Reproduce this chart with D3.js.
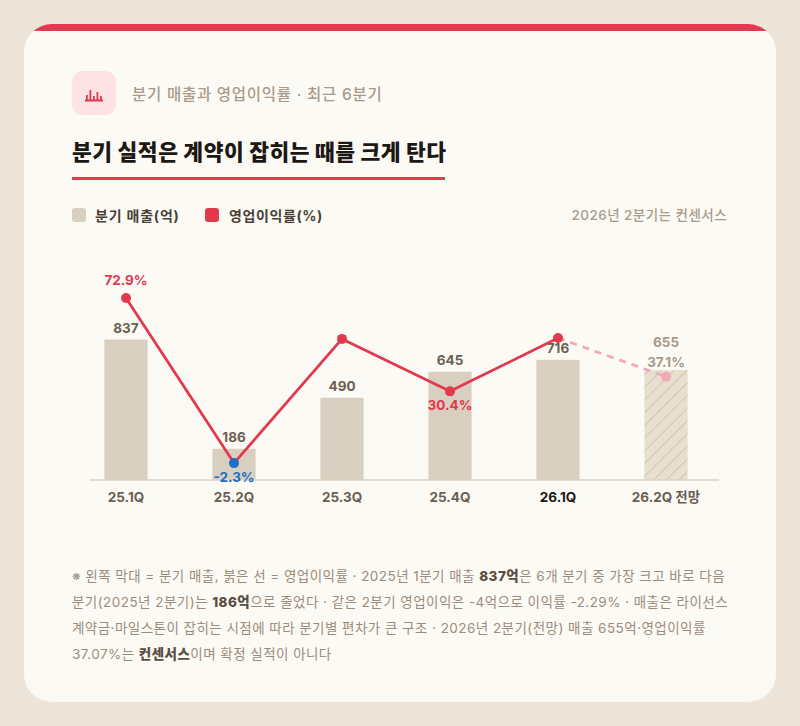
<!DOCTYPE html>
<html><head><meta charset="utf-8">
<script src="https://cdn.jsdelivr.net/npm/d3@7/dist/d3.min.js"></script>
<style>
html,body{margin:0;padding:0;background:#ede5d9;}
svg{display:block;font-family:Inter,"Noto Sans CJK KR","Noto Sans",sans-serif;}
</style></head>
<body>
<svg id="c" width="800" height="726"></svg>
<script>
const quarters = ["25.1Q","25.2Q","25.3Q","25.4Q","26.1Q","26.2Q 전망"];
const revenue = [837,186,490,645,716,655];
const margin = [72.9,-2.3,54.3,30.4,54.7,37.1];
const marginLabels = ["72.9%","-2.3%",null,"30.4%",null,"37.1%"];
const forecast = [false,false,false,false,false,true];
const footLines = [
  [["※ 왼쪽 막대 = 분기 매출, 붉은 선 = 영업이익률 · 2025년 1분기 매출 ",0],["837억",1],["은 6개 분기 중 가장 크고 바로 다음",0]],
  [["분기(2025년 2분기)는 ",0],["186억",1],["으로 줄었다 · 같은 2분기 영업이익은 -4억으로 이익률 -2.29% · 매출은 라이선스",0]],
  [["계약금·마일스톤이 잡히는 시점에 따라 분기별 편차가 큰 구조 · 2026년 2분기(전망) 매출 655억·영업이익률",0]],
  [["37.07%는 ",0],["컨센서스",1],["이며 확정 실적이 아니다",0]]
];

const svg = d3.select("#c");
const defs = svg.append("defs");
const pat = defs.append("pattern").attr("id","hatch").attr("patternUnits","userSpaceOnUse")
  .attr("width",9).attr("height",9).attr("patternTransform","rotate(-45)");
pat.append("rect").attr("width",9).attr("height",9).attr("fill","#e8dfcf");
pat.append("line").attr("x1",0).attr("y1",0).attr("x2",9).attr("y2",0).attr("stroke","#d3c7b4").attr("stroke-width",2.2);
const clip = defs.append("clipPath").attr("id","card");
clip.append("rect").attr("x",24).attr("y",24).attr("width",752).attr("height",678).attr("rx",28);

// card
const card = svg.append("g").attr("clip-path","url(#card)");
card.append("rect").attr("x",24).attr("y",24).attr("width",752).attr("height",678).attr("fill","#fcfaf5");
card.append("rect").attr("x",24).attr("y",24).attr("width",752).attr("height",7).attr("fill","#e2394d");

// icon
svg.append("rect").attr("x",72).attr("y",71).attr("width",44).attr("height",44).attr("rx",11).attr("fill","#fde1e4");
const ic = svg.append("g").attr("fill","#e2394d");
ic.append("rect").attr("x",85).attr("y",99.5).attr("width",18).attr("height",2);
[[86,95],[89.5,90],[93,96],[96.5,92],[100,96]].forEach(([x,y])=>ic.append("rect").attr("x",x).attr("y",y).attr("width",1.8).attr("height",101-y));

svg.append("text").attr("x",132).attr("y",100).attr("font-size",15.5).attr("font-weight",500).attr("letter-spacing",0.75).attr("fill","#a89a8a").text("분기 매출과 영업이익률 · 최근 6분기");
svg.append("text").attr("x",72).attr("y",160).attr("font-size",21.5).attr("font-weight",900).attr("letter-spacing",0.55).attr("fill","#1c1814").text("분기 실적은 계약이 잡히는 때를 크게 탄다");
svg.append("rect").attr("x",72).attr("y",177).attr("width",373).attr("height",3).attr("fill","#e2394d");

// legend
svg.append("rect").attr("x",72).attr("y",208).attr("width",14).attr("height",14).attr("rx",3).attr("fill","#d9cfc0");
svg.append("text").attr("x",95).attr("y",221).attr("font-size",14).attr("font-weight",700).attr("letter-spacing",0.8).attr("fill","#4a4036").text("분기 매출(억)");
svg.append("rect").attr("x",205).attr("y",208).attr("width",14).attr("height",14).attr("rx",3).attr("fill","#e2394d");
svg.append("text").attr("x",229).attr("y",221).attr("font-size",14).attr("font-weight",700).attr("letter-spacing",0.6).attr("fill","#4a4036").text("영업이익률(%)");
svg.append("text").attr("x",727).attr("y",220).attr("text-anchor","end").attr("font-size",13.5).attr("font-weight",500).attr("letter-spacing",0.45).attr("fill","#a89a8a").text("2026년 2분기는 컨센서스");

// scales
const x = d3.scaleBand().domain(quarters).range([72,720]).paddingInner(0.6).paddingOuter(0.3);
const yR = d3.scaleLinear().domain([0,1180]).range([480,282]);
const yM = d3.scaleLinear().domain([-10,80]).range([480,282.5]);
const cx = q => x(q)+x.bandwidth()/2;

// bars
svg.append("g").selectAll("rect").data(quarters).join("rect")
  .attr("x",q=>x(q)).attr("width",x.bandwidth())
  .attr("y",(q,i)=>yR(revenue[i])).attr("height",(q,i)=>yR(0)-yR(revenue[i]))
  .attr("fill",(q,i)=>forecast[i]?"url(#hatch)":"#d9cfc0");

// axis
const ax = svg.append("g").attr("transform","translate(0,480)").call(d3.axisBottom(x).tickSize(0).tickPadding(12));
ax.select(".domain").attr("d","M90,0H719").attr("stroke","#ddd2c2").attr("stroke-width",1.5);
ax.selectAll(".tick text").attr("font-size",13.5).attr("font-weight",700)
  .attr("font-family","Inter,'Noto Sans CJK KR',sans-serif")
  .attr("fill",q=>q==="26.1Q"?"#1c1814":"#6b5f52");

// line
const actualIdx = d3.range(0,5);
const line = d3.line().x(i=>cx(quarters[i])).y(i=>yM(margin[i]));
svg.append("path").attr("d",line(actualIdx)).attr("fill","none").attr("stroke","#e2394d").attr("stroke-width",2.8).attr("stroke-linejoin","round");
svg.append("path").attr("d",line([4,5])).attr("fill","none").attr("stroke","#f1aab6").attr("stroke-width",2.8).attr("stroke-dasharray","7,6");

svg.append("g").selectAll("circle").data(quarters).join("circle")
  .attr("cx",q=>cx(q)).attr("cy",(q,i)=>yM(margin[i])).attr("r",5)
  .attr("fill",(q,i)=>forecast[i]?"#f1aab6":(margin[i]<0?"#1f6fc5":"#e2394d"));

// revenue labels
svg.append("g").selectAll("text").data(quarters).join("text")
  .attr("x",q=>cx(q))
  .attr("y",(q,i)=>forecast[i]?yM(margin[i])-30:yR(revenue[i])-7)
  .attr("text-anchor","middle").attr("font-size",13.5).attr("font-weight",700)
  .attr("fill",(q,i)=>forecast[i]?"#a89a8a":"#6b5f52").text((q,i)=>revenue[i]);

// margin labels
svg.append("g").selectAll("text").data(quarters.filter((q,i)=>marginLabels[i])).join("text")
  .each(function(q){
    const i = quarters.indexOf(q);
    const below = margin[i] < 0 || i===3;
    d3.select(this).attr("x",cx(q))
      .attr("y", below ? yM(margin[i])+19 : yM(margin[i])-(forecast[i]?10:13))
      .attr("fill", forecast[i]?"#a89a8a":(margin[i]<0?"#1f6fc5":"#e2394d"))
      .text(marginLabels[i]);
  })
  .attr("text-anchor","middle").attr("font-size",13.5).attr("font-weight",700);

// footnote
const fn = svg.append("g");
footLines.forEach((segs,li)=>{
  const t = fn.append("text").attr("x",72).attr("y",581+li*26).attr("font-size",13.5).attr("letter-spacing",0.45).attr("fill","#9a8c7c");
  segs.forEach(([s,b])=>t.append("tspan").attr("font-weight",b?800:400).attr("fill",b?"#5a4e42":"#9a8c7c").text(s));
});
</script>
</body></html>
